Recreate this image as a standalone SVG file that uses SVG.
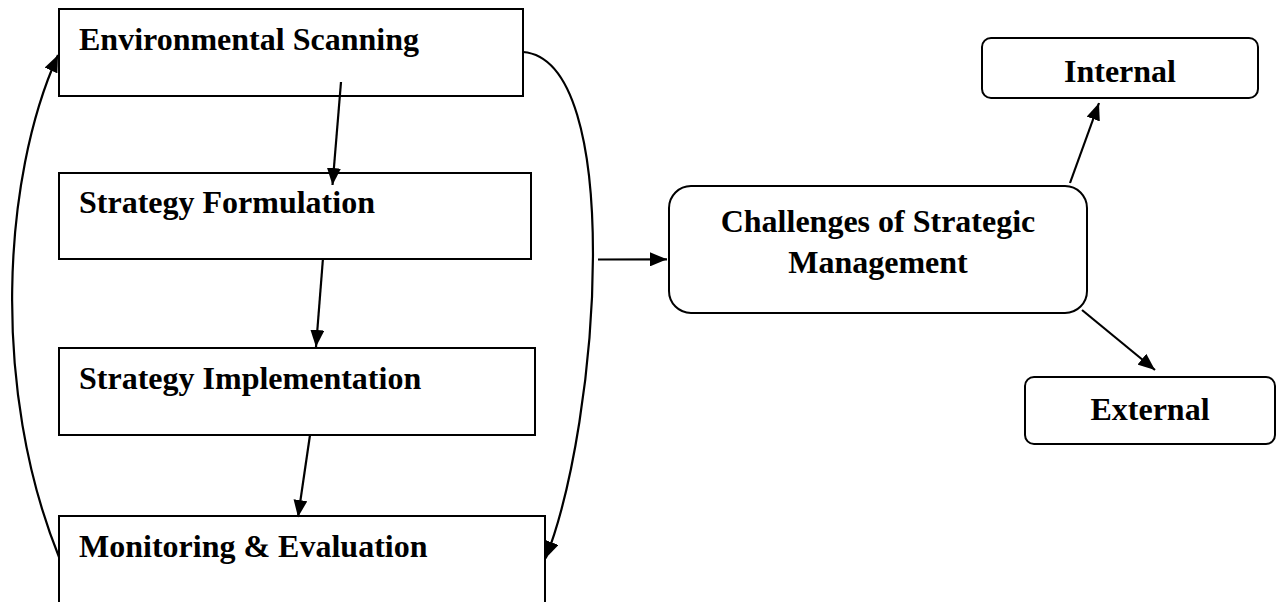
<svg xmlns="http://www.w3.org/2000/svg" width="1277" height="602" viewBox="0 0 1277 602">
<style>
.box{fill:#fff;stroke:#000;stroke-width:2}
.lbl{font-family:"Liberation Serif","Times New Roman",serif;font-weight:bold;font-size:32px;fill:#000}
.ctr{text-anchor:middle}
.con{fill:none;stroke:#000;stroke-width:2.2;marker-end:url(#ah)}
</style>
<defs>
<marker id="ah" markerUnits="userSpaceOnUse" markerWidth="18" markerHeight="14" refX="17" refY="7" orient="auto">
<path d="M0,0 L17,7 L0,14 z" fill="#000"/>
</marker>
</defs>
<g id="env"><rect class="box" x="59" y="9" width="464" height="87"/><text class="lbl" x="79" y="50">Environmental Scanning</text></g>
<g id="form"><rect class="box" x="59" y="173" width="472" height="86"/><text class="lbl" x="79" y="213">Strategy Formulation</text></g>
<g id="impl"><rect class="box" x="59" y="348" width="476" height="87"/><text class="lbl" x="79" y="389">Strategy Implementation</text></g>
<g id="mon"><rect class="box" x="59" y="516" width="486" height="100"/><text class="lbl" x="79" y="557">Monitoring &amp; Evaluation</text></g>
<g id="chal"><rect class="box" x="669" y="186" width="418" height="127" rx="22" ry="22"/><text class="lbl ctr" x="878" y="232">Challenges of Strategic</text><text class="lbl ctr" x="878" y="273">Management</text></g>
<g id="int"><rect class="box" x="982" y="38" width="276" height="60" rx="9" ry="9"/><text class="lbl ctr" x="1120" y="82">Internal</text></g>
<g id="ext"><rect class="box" x="1025" y="377" width="250" height="67" rx="9" ry="9"/><text class="lbl ctr" x="1150" y="420">External</text></g>
<g id="connectors">
<path class="con" d="M341,82 L332.5,185"/>
<path class="con" d="M323,258 L316,347"/>
<path class="con" d="M310,435 L298,517"/>
<path class="con" d="M59,557 C-8.5,389.5 2,179 58,55"/>
<path class="con" d="M523,52 C625,60 600,420 545.7,558.3"/>
<path class="con" d="M598,259.5 L667,259.3"/>
<path class="con" d="M1070,183 L1099,103"/>
<path class="con" d="M1082,310 L1155,370"/>
</g>
</svg>
